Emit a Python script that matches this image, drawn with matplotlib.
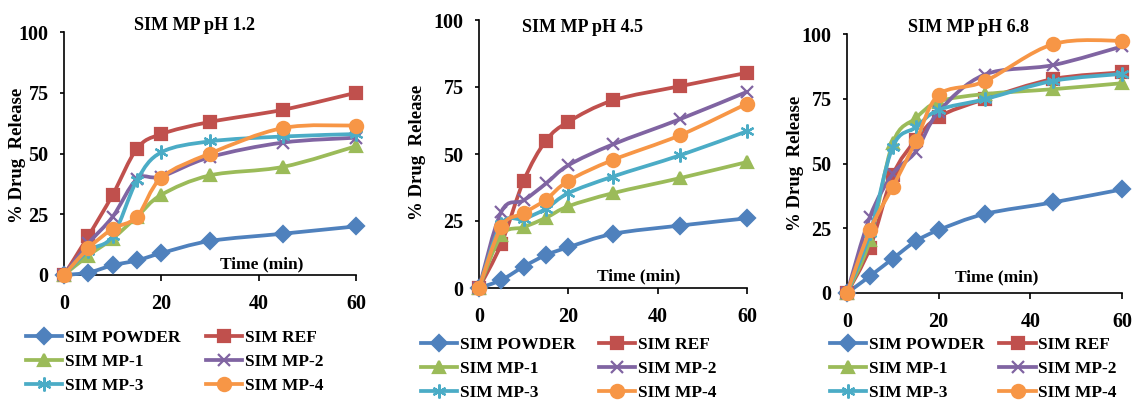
import matplotlib
matplotlib.use("Agg")
import matplotlib.pyplot as plt
import numpy as np
from matplotlib.path import Path
from matplotlib.patches import PathPatch
from matplotlib.lines import Line2D

plt.rcParams['font.family'] = ['Liberation Serif', 'DejaVu Serif']
plt.rcParams['font.weight'] = 'bold'

# sampling times (min)
time_min = [0, 5, 10, 15, 20, 30, 45, 60]

series_names = ["SIM POWDER", "SIM REF", "SIM MP-1", "SIM MP-2", "SIM MP-3", "SIM MP-4"]

# % drug release at pH 1.2
ph12_powder = [0, 1, 4, 6, 9, 14, 17, 20]
ph12_ref = [0, 16, 33, 52, 58, 63, 68, 75]
ph12_mp1 = [0, 8, 15, 24, 33, 41, 44.5, 53]
ph12_mp2 = [0, 13, 24, 39.5, 40.5, 48.5, 54.5, 56.5]
ph12_mp3 = [0, 10, 16, 39, 50.5, 55, 57, 58]
ph12_mp4 = [0, 11, 19, 24, 40, 50, 60.5, 61.5]

# % drug release at pH 4.5
ph45_powder = [0, 3, 8, 12.3, 15.2, 20.2, 23.3, 26]
ph45_ref = [0, 16.5, 40, 55, 62, 70, 75.3, 80.3]
ph45_mp1 = [0, 19.6, 22.7, 26.2, 30.5, 35.4, 41, 47]
ph45_mp2 = [0, 28.5, 32.7, 39, 45.8, 53.6, 63, 73.2]
ph45_mp3 = [0, 23.9, 25.8, 29.6, 35.4, 41.6, 49.5, 58.5]
ph45_mp4 = [0, 22.9, 27.9, 33, 40, 47.8, 57, 68.8]

# % drug release at pH 6.8
ph68_powder = [0, 6.5, 13.3, 20, 24.3, 30.5, 35, 40]
ph68_ref = [0, 17.4, 45.5, 59, 68, 74.8, 82.6, 85.2]
ph68_mp1 = [0, 20.4, 58, 67.5, 73.9, 76.8, 78.7, 81]
ph68_mp2 = [0, 29.4, 46, 54.6, 70, 84.3, 88, 95.2]
ph68_mp3 = [0, 23, 56.5, 64, 70.7, 74.8, 81.9, 84.6]
ph68_mp4 = [0, 24.3, 41, 58.5, 76.5, 81.7, 96.1, 97.4]

colors = ["#4F81BD", "#C0504D", "#9BBB59", "#8064A2", "#4BACC6", "#F79646"]
markers = ["D", "s", "^", "x", (6, 2, 0), "o"]
msizes = [8, 8.5, 9, 9, 10, 9.5]

W, H = 1134, 401
fig = plt.figure(figsize=(W / 100, H / 100), dpi=100)


def px_axes(x0, x1, ytop, ybot):
    return fig.add_axes([x0 / W, 1 - ybot / H, (x1 - x0) / W, (ybot - ytop) / H])


def smooth_path(x, y):
    # Catmull-Rom style bezier through the points, like a spreadsheet "smoothed line"
    pts = np.column_stack([x, y]).astype(float)
    n = len(pts)
    verts = [pts[0]]
    codes = [Path.MOVETO]
    for i in range(n - 1):
        p0 = pts[i - 1] if i > 0 else pts[i]
        p1 = pts[i]
        p2 = pts[i + 1]
        p3 = pts[i + 2] if i + 2 < n else pts[i + 1]
        c1 = p1 + (p2 - p0) / 6.0
        c2 = p2 - (p3 - p1) / 6.0
        verts += [c1, c2, p2]
        codes += [Path.CURVE4] * 3
    return Path(verts, codes)


panels = [
    dict(title="SIM MP pH 1.2", data=[ph12_powder, ph12_ref, ph12_mp1, ph12_mp2, ph12_mp3, ph12_mp4],
         box=(64, 356, 32, 275), title_xy=(194, 25), ylab_xy=(18, 155), time_xy=(262, 264),
         leg_xy=(26, 330), colsp=1.45),
    dict(title="SIM MP pH 4.5", data=[ph45_powder, ph45_ref, ph45_mp1, ph45_mp2, ph45_mp3, ph45_mp4],
         box=(479, 747, 20, 288), title_xy=(583, 27), ylab_xy=(418, 152), time_xy=(639, 276),
         leg_xy=(421, 337), colsp=1.35),
    dict(title="SIM MP pH 6.8", data=[ph68_powder, ph68_ref, ph68_mp1, ph68_mp2, ph68_mp3, ph68_mp4],
         box=(847, 1122, 34, 293), title_xy=(968, 27), ylab_xy=(796, 163), time_xy=(997, 277),
         leg_xy=(830, 337), colsp=0.85),
]

# legend fills column by column, so reorder to read across rows
leg_order = [0, 2, 4, 1, 3, 5]

for p in panels:
    ax = px_axes(*p["box"])
    ax.set_xlim(0, 60)
    ax.set_ylim(0, 100)
    for k, vals in enumerate(p["data"]):
        z = 3 + k * 0.1
        ax.add_patch(PathPatch(smooth_path(time_min, vals), fill=False, edgecolor=colors[k],
                               lw=2.7, capstyle='round', joinstyle='round', zorder=z, clip_on=False))
        ax.plot(time_min, vals, linestyle='none', marker=markers[k], ms=msizes[k],
                color=colors[k], mec=colors[k], mew=1.6, zorder=z + 0.05, clip_on=False)

    ax.spines['top'].set_visible(False)
    ax.spines['right'].set_visible(False)
    ax.spines['left'].set_linewidth(1.2)
    ax.spines['bottom'].set_linewidth(1.2)
    ax.set_xticks([0, 20, 40, 60])
    ax.set_yticks([0, 25, 50, 75, 100])
    ax.tick_params(axis='x', direction='out', length=4, width=1.2, pad=10, labelsize=14.5)
    ax.tick_params(axis='y', direction='out', length=3, width=1.2, pad=8, labelsize=14.5)
    for lab in ax.get_xticklabels() + ax.get_yticklabels():
        lab.set_fontweight('bold')

    fig.text(p["title_xy"][0] / W, 1 - p["title_xy"][1] / H, p["title"], ha='center', va='center',
             fontsize=13, fontweight='bold')
    fig.text(p["ylab_xy"][0] / W, 1 - p["ylab_xy"][1] / H, "% Drug  Release", ha='center', va='center',
             rotation=90, fontsize=13.5, fontweight='bold')
    fig.text(p["time_xy"][0] / W, 1 - p["time_xy"][1] / H, "Time (min)", ha='center', va='center',
             fontsize=12.5, fontweight='bold')

    handles = [Line2D([], [], color=colors[k], lw=2.7, marker=markers[k], ms=msizes[k],
                      mec=colors[k], mew=1.6) for k in range(6)]
    fig.legend([handles[k] for k in leg_order], [series_names[k] for k in leg_order],
               loc='upper left', bbox_to_anchor=(p["leg_xy"][0] / W, 1 - p["leg_xy"][1] / H),
               ncol=2, frameon=False, borderpad=0, borderaxespad=0, handlelength=2.1,
               handletextpad=0.15, columnspacing=p["colsp"], labelspacing=0.44,
               prop={'family': 'Liberation Serif', 'weight': 'bold', 'size': 12.5})

fig.savefig("out.png", dpi=100)
